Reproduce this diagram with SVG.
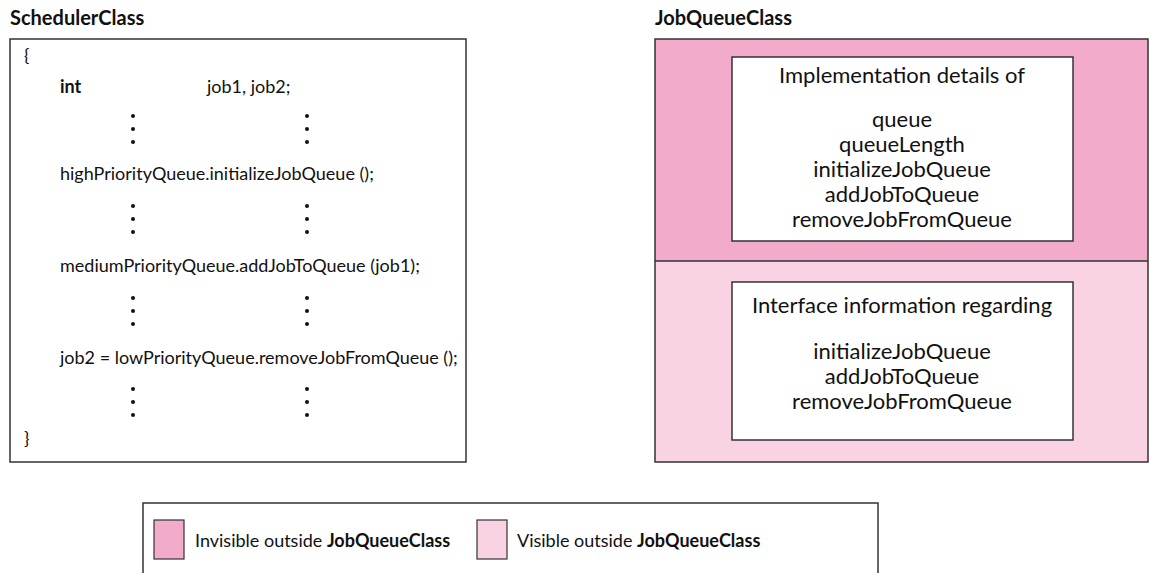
<svg xmlns="http://www.w3.org/2000/svg" width="1150" height="573" viewBox="0 0 1150 573">
<style>
text{font-family:Lato,"Open Sans","Liberation Sans",sans-serif;fill:#111;}
.t{font-size:18px;}
.r{font-size:22px;text-anchor:middle;}
.b{font-weight:bold;}
.h{font-size:20px;font-weight:bold;}
.box{fill:#fff;stroke:#333;stroke-width:1.5;}
.dark{fill:#F3ABCC;}
.light{fill:#F9D3E4;}
.edge{fill:none;stroke:#333;stroke-width:1.5;}
.dot{fill:#111;}
</style>
<g id="scheduler">
<text class="h" x="10" y="25">SchedulerClass</text>
<rect class="box" x="10" y="39" width="456" height="423"/>
<text class="t" x="24" y="62">{</text>
<text class="t b" x="60" y="93">int</text>
<text class="t" x="207" y="93">job1, job2;</text>
<text class="t" x="60" y="180">highPriorityQueue.initializeJobQueue ();</text>
<text class="t" x="60" y="272">mediumPriorityQueue.addJobToQueue (job1);</text>
<text class="t" x="60" y="364">job2 = lowPriorityQueue.removeJobFromQueue ();</text>
<text class="t" x="24" y="445">}</text>
<g class="dot">
<circle cx="133" cy="116" r="2"/><circle cx="133" cy="129" r="2"/><circle cx="133" cy="142" r="2"/>
<circle cx="307" cy="116" r="2"/><circle cx="307" cy="129" r="2"/><circle cx="307" cy="142" r="2"/>
<circle cx="133" cy="206" r="2"/><circle cx="133" cy="219" r="2"/><circle cx="133" cy="232" r="2"/>
<circle cx="307" cy="206" r="2"/><circle cx="307" cy="219" r="2"/><circle cx="307" cy="232" r="2"/>
<circle cx="133" cy="298" r="2"/><circle cx="133" cy="311" r="2"/><circle cx="133" cy="324" r="2"/>
<circle cx="307" cy="298" r="2"/><circle cx="307" cy="311" r="2"/><circle cx="307" cy="324" r="2"/>
<circle cx="133" cy="389" r="2"/><circle cx="133" cy="402" r="2"/><circle cx="133" cy="415" r="2"/>
<circle cx="307" cy="389" r="2"/><circle cx="307" cy="402" r="2"/><circle cx="307" cy="415" r="2"/>
</g>
</g>
<g id="jobqueue">
<text class="h" x="655" y="25">JobQueueClass</text>
<rect class="dark" x="655" y="39" width="493" height="222"/>
<rect class="light" x="655" y="261" width="493" height="201"/>
<rect class="edge" x="655" y="39" width="493" height="423"/>
<line class="edge" x1="655" y1="261" x2="1148" y2="261"/>
</g>
<g id="implementation">
<rect class="box" x="732" y="57" width="341" height="184"/>
<text class="r" x="902" y="83">Implementation details of</text>
<text class="r" x="902" y="127">queue</text>
<text class="r" x="902" y="152">queueLength</text>
<text class="r" x="902" y="177">initializeJobQueue</text>
<text class="r" x="902" y="202">addJobToQueue</text>
<text class="r" x="902" y="227">removeJobFromQueue</text>
</g>
<g id="interface">
<rect class="box" x="732" y="282" width="341" height="158"/>
<text class="r" x="902" y="313">Interface information regarding</text>
<text class="r" x="902" y="359">initializeJobQueue</text>
<text class="r" x="902" y="384">addJobToQueue</text>
<text class="r" x="902" y="409">removeJobFromQueue</text>
</g>
<g id="legend">
<rect class="box" x="143" y="503" width="735" height="80"/>
<rect class="dark" x="154" y="520" width="30" height="39" stroke="#333" stroke-width="1.2"/>
<text class="t" x="195" y="547">Invisible outside <tspan class="b">JobQueueClass</tspan></text>
<rect class="light" x="477" y="520" width="30" height="39" stroke="#333" stroke-width="1.2"/>
<text class="t" x="517" y="547">Visible outside <tspan class="b">JobQueueClass</tspan></text>
</g>
<g id="connectors"></g>
</svg>
